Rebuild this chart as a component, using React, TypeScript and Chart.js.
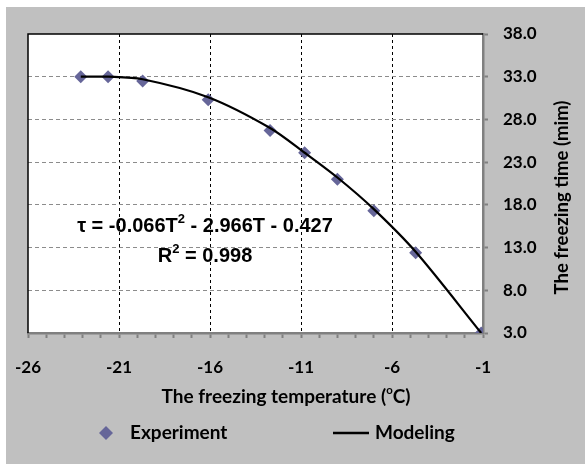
import React, { useEffect, useRef } from 'react';
import { Chart, registerables } from 'chart.js';

Chart.register(...registerables);

// ---- data ----
const experimentT = [-23.1, -21.6, -19.7, -16.1, -12.7, -10.8, -9.0, -7.0, -4.7, -1.1];
const experimentTau = [33.0, 33.0, 32.5, 30.3, 26.7, 24.1, 21.0, 17.3, 12.4, 3.0];
const modelingT = [-23.1, -21.6, -19.7, -16.1, -12.7, -10.8, -9.0, -7.0, -4.7, -1.1];
const modelingTau = [33.0, 33.0, 32.7, 30.6, 27.0, 24.1, 21.2, 17.5, 12.5, 3.0];
const xTickLabels = ['-26', '-21', '-16', '-11', '-6', '-1'];
const yTickLabels = ['3.0', '8.0', '13.0', '18.0', '23.0', '28.0', '33.0', '38.0'];
const seriesNames = ['Experiment', 'Modeling'];
const equationLine1 = [
  { t: 'τ = -0.066T' }, { t: '2', sup: true }, { t: ' - 2.966T - 0.427' },
];
const equationLine2 = [{ t: 'R' }, { t: '2', sup: true }, { t: ' = 0.998' }];
const xTitle = [{ t: 'The freezing temperature (' }, { t: 'o', sup: true }, { t: 'C)' }];
const yTitle = 'The freezing time (mim)';

const W = 579;
const H = 457;
const MARKER = '#666699';
const GRAY_BG = '#C0C0C0';
const AXIS_GRAY = '#808080';
const TICK_FONT = 'Lato';

type Part = { t: string; sup?: boolean };

function drawRich(
  ctx: CanvasRenderingContext2D,
  parts: Part[],
  cx: number,
  baseline: number,
  family: string,
  size: number,
  supRatio: number,
  supRise: number,
) {
  const fontOf = (p: Part) => `bold ${p.sup ? size * supRatio : size}px ${family}`;
  let total = 0;
  const widths = parts.map((p) => {
    ctx.font = fontOf(p);
    const w = ctx.measureText(p.t).width;
    total += w;
    return w;
  });
  let x = cx - total / 2;
  ctx.textAlign = 'left';
  ctx.textBaseline = 'alphabetic';
  parts.forEach((p, i) => {
    ctx.font = fontOf(p);
    ctx.fillText(p.t, x, p.sup ? baseline - size * supRise : baseline);
    x += widths[i];
  });
}

const decorPlugin = {
  id: 'decor',
  beforeDraw(chart: any) {
    const { ctx, chartArea: a } = chart;
    ctx.save();
    ctx.fillStyle = '#ffffff';
    ctx.fillRect(a.left, a.top, a.right - a.left, a.bottom - a.top);
    ctx.restore();
  },
  beforeDatasetsDraw(chart: any) {
    const { ctx, chartArea: a } = chart;
    ctx.save();
    ctx.strokeStyle = '#000000';
    ctx.lineWidth = 1.5;
    ctx.beginPath();
    ctx.moveTo(a.left, a.bottom);
    ctx.lineTo(a.left, a.top);
    ctx.lineTo(a.right, a.top);
    ctx.stroke();
    ctx.restore();
  },
  afterDraw(chart: any) {
    const { ctx, chartArea: a } = chart;
    ctx.save();
    ctx.fillStyle = '#000000';
    // regression equation
    const eqFamily = '"Liberation Sans", Arial, sans-serif';
    drawRich(ctx, equationLine1, a.left + 177, a.top + 198, eqFamily, 20, 0.65, 0.45);
    drawRich(ctx, equationLine2, a.left + 177, a.top + 228, eqFamily, 20, 0.65, 0.45);

    // x axis title
    drawRich(ctx, xTitle, 280, 396, TICK_FONT, 19, 0.6, 0.5);

    // y axis title (rotated)
    ctx.save();
    ctx.translate(556, 190.5);
    ctx.rotate(-Math.PI / 2);
    ctx.font = `bold 18.5px ${TICK_FONT}`;
    ctx.textAlign = 'center';
    ctx.textBaseline = 'middle';
    ctx.fillText(yTitle, 0, 0);
    ctx.restore();

    // legend
    const ly = 426;
    ctx.fillStyle = MARKER;
    ctx.beginPath();
    ctx.moveTo(100, ly - 7);
    ctx.lineTo(107, ly);
    ctx.lineTo(100, ly + 7);
    ctx.lineTo(93, ly);
    ctx.closePath();
    ctx.fill();
    ctx.fillStyle = '#000000';
    ctx.font = `bold 19px ${TICK_FONT}`;
    ctx.textAlign = 'left';
    ctx.textBaseline = 'middle';
    ctx.fillText(seriesNames[0], 124, ly);
    ctx.strokeStyle = '#000000';
    ctx.lineWidth = 2.5;
    ctx.beginPath();
    ctx.moveTo(327, ly);
    ctx.lineTo(363, ly);
    ctx.stroke();
    ctx.fillText(seriesNames[1], 369, ly);
    ctx.restore();
  },
};

export default function App() {
  const ref = useRef<HTMLCanvasElement | null>(null);

  useEffect(() => {
    document.body.style.margin = '0';
    if (!ref.current) return;
    const chart = new Chart(ref.current, {
      type: 'scatter',
      data: {
        datasets: [
          {
            label: seriesNames[1],
            data: modelingT.map((x, i) => ({ x, y: modelingTau[i] })),
            showLine: true,
            borderColor: '#000000',
            borderWidth: 2.2,
            pointRadius: 0,
            tension: 0.3,
          },
          {
            label: seriesNames[0],
            data: experimentT.map((x, i) => ({ x, y: experimentTau[i] })),
            pointStyle: 'rectRot',
            pointRadius: 6.5,
            backgroundColor: MARKER,
            borderColor: MARKER,
            borderWidth: 0,
            showLine: false,
          },
        ],
      },
      options: {
        responsive: false,
        animation: false,
        layout: { padding: { left: 22, top: 27, right: 0, bottom: 0 } },
        plugins: {
          legend: { display: false },
          tooltip: { enabled: false },
        },
        scales: {
          x: {
            type: 'linear',
            min: -26,
            max: -1,
            afterFit: (s: any) => {
              s.height = 131;
              s.paddingLeft = 0;
              s.paddingRight = 0;
            },
            ticks: {
              stepSize: 1,
              autoSkip: false,
              maxRotation: 0,
              padding: 19,
              color: '#000000',
              font: { family: TICK_FONT, size: 17, weight: 'bold' },
              callback: (v: any) => {
                const s = String(Math.round(Number(v)));
                return xTickLabels.includes(s) ? s : '';
              },
            },
            grid: {
              color: (c: any) => {
                const v = Math.round(c.tick?.value ?? 0);
                const major = xTickLabels.includes(String(v));
                return major && v !== -26 && v !== -1 ? '#000000' : 'rgba(0,0,0,0)';
              },
              lineWidth: 1,
              tickColor: AXIS_GRAY,
              tickLength: 5,
              tickWidth: 2,
            },
            border: { color: AXIS_GRAY, width: 2.5, dash: [3, 3] },
          },
          y: {
            type: 'linear',
            position: 'right',
            min: 3,
            max: 38,
            afterFit: (s: any) => {
              s.width = 102;
            },
            ticks: {
              stepSize: 5,
              padding: 15,
              color: '#000000',
              font: { family: TICK_FONT, size: 17, weight: 'bold' },
              callback: (v: any) => {
                const s = Number(v).toFixed(1);
                return yTickLabels.includes(s) ? s : '';
              },
            },
            grid: {
              color: (c: any) => {
                const v = c.tick?.value;
                return v === 38 || v === 3 ? 'rgba(0,0,0,0)' : '#8c8c8c';
              },
              lineWidth: 1,
              tickColor: AXIS_GRAY,
              tickLength: 5,
              tickWidth: 2,
            },
            border: { color: AXIS_GRAY, width: 2.5, dash: [4, 3] },
          },
        },
      },
      plugins: [decorPlugin],
    });
    return () => chart.destroy();
  }, []);

  return (
    <div
      style={{
        position: 'absolute',
        left: 6,
        top: 7,
        width: W,
        height: H,
        background: GRAY_BG,
      }}
    >
      <canvas ref={ref} width={W} height={H} style={{ display: 'block' }} />
    </div>
  );
}
